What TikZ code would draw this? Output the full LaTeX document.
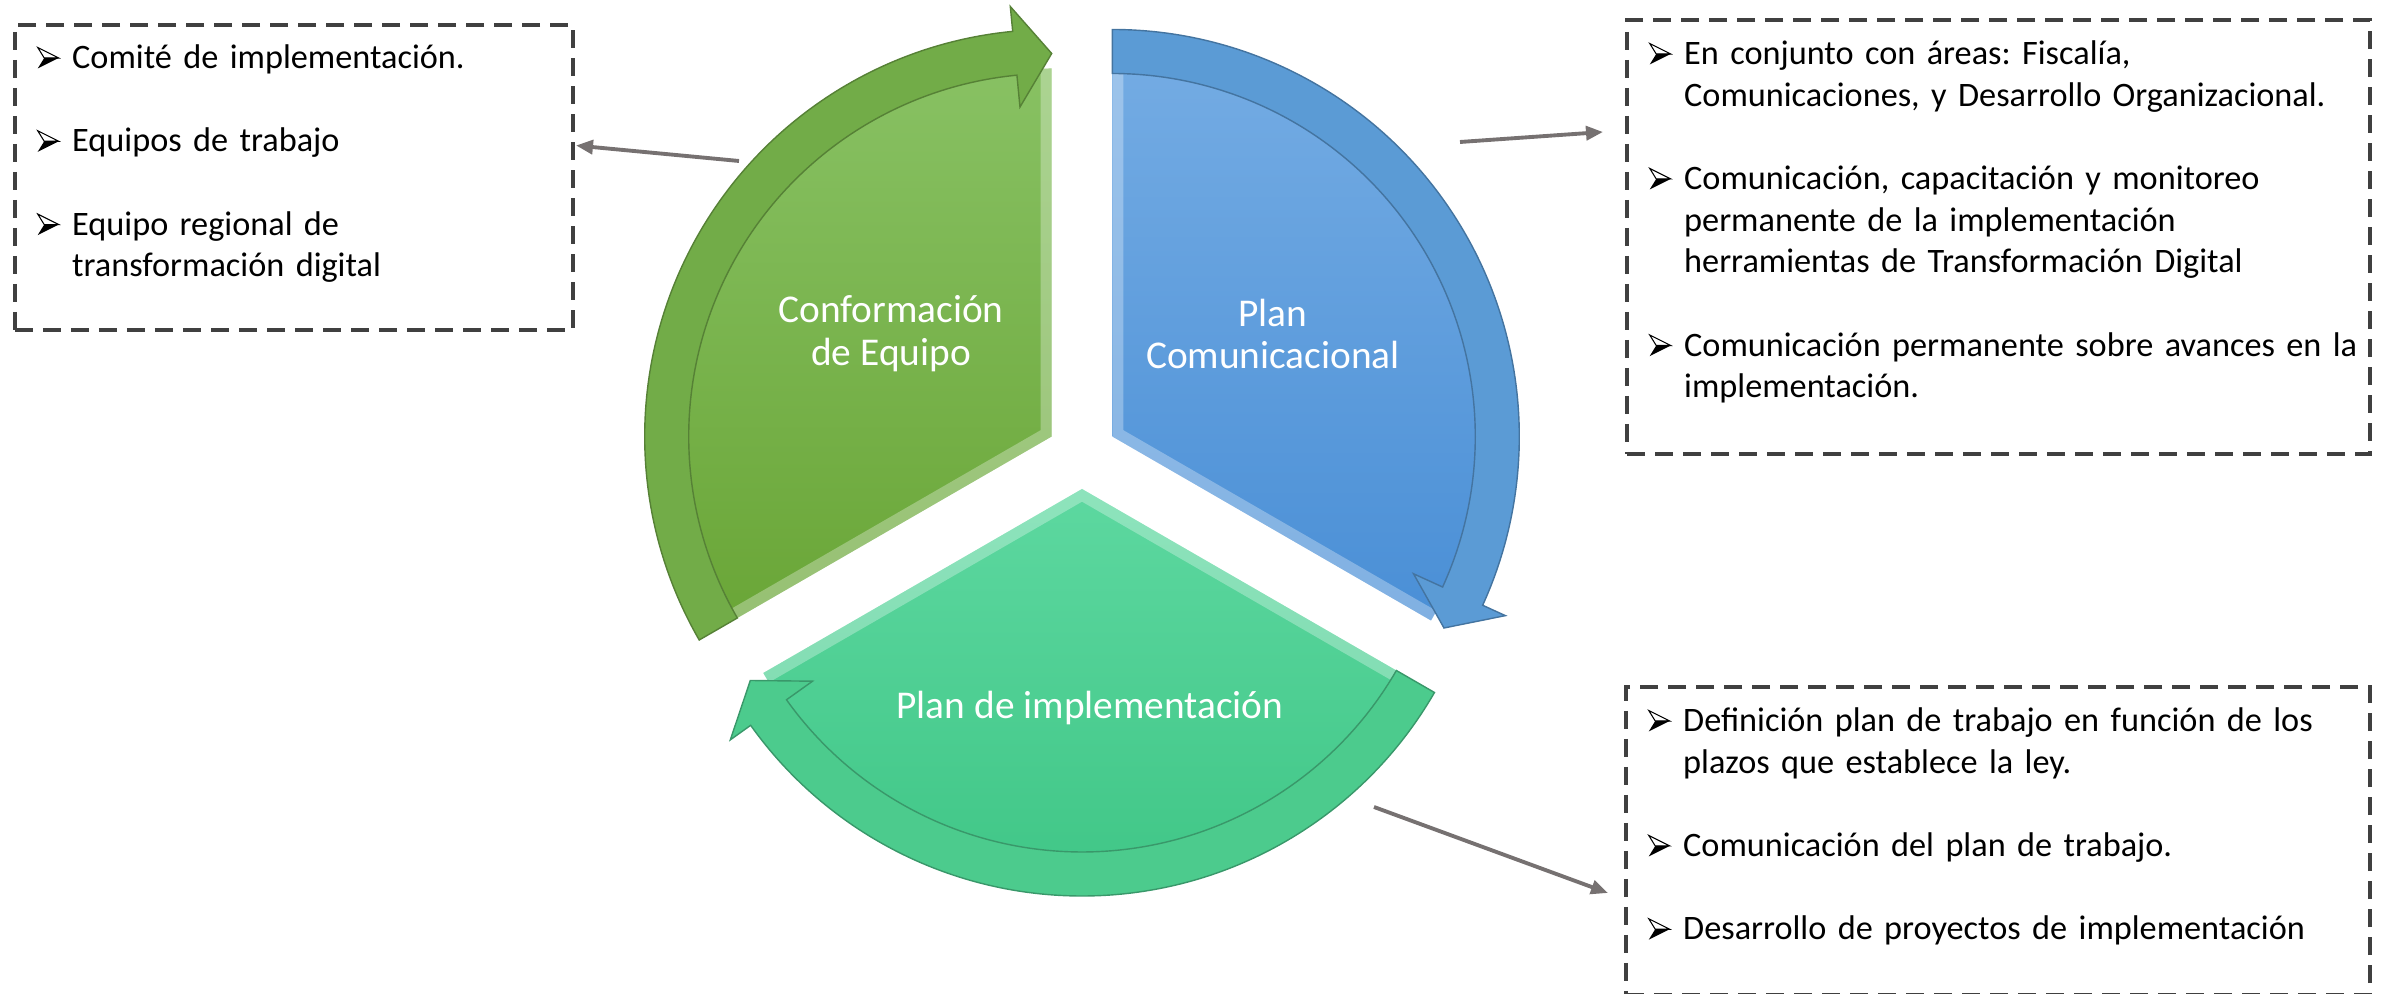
\documentclass[tikz,border=0pt]{standalone}
\usepackage{fontspec}
\setmainfont{Carlito}
\usetikzlibrary{arrows.meta,positioning}

\definecolor{verdeA}{HTML}{88C163}
\definecolor{verdeB}{HTML}{6AA637}
\definecolor{verdeBanda}{HTML}{72AC48}
\definecolor{azulA}{HTML}{73ABE3}
\definecolor{azulB}{HTML}{4A8FD6}
\definecolor{azulBanda}{HTML}{5B9BD5}
\definecolor{tealA}{HTML}{5DD8A0}
\definecolor{tealB}{HTML}{3EC585}
\definecolor{tealBanda}{HTML}{4CCB8D}
\definecolor{borde}{HTML}{404040}
\definecolor{flecha}{HTML}{767171}

\tikzset{dashbox/.style={draw=borde, line width=1.15pt, dash pattern=on 0.18cm off 0.1cm,
   anchor=north west, inner sep=0, outer sep=0},
 listtext/.style={inner sep=0, text width=7.2cm, align=left,
   font=\fontsize{9.75}{11.85}\selectfont\frenchspacing},
 etiqueta/.style={text=white, align=center, font=\fontsize{11.2}{12.2}\selectfont},
 conector/.style={draw=flecha, line width=1.1pt, -{Triangle[length=0.17cm,width=0.14cm]}},
 }

% arrow-head bullet
\newcommand{\bul}{\tikz[baseline=0pt]{\draw[line width=0.3pt, line join=miter, fill=white]
  (0,0.21)--(0.21,0.105)--(0.065,0.105)--cycle; \fill (0.065,0.105)--(0.21,0.105)--(0,0)--cycle;}}
\newcommand{\punto}[1]{\noindent\hangindent=0.35cm\hangafter=1\makebox[0.35cm][l]{\bul}#1\par}

% one piece of the cycle: shift, start angle, end angle, top, bottom, band
\newcommand{\cyclepart}[6]{%
 \begin{scope}[shift={#1}]
  \shade[top color=#4, bottom color=#5] (0,0) -- (#2:3.68) arc[start angle=#2, end angle=#3, radius=3.68cm] -- cycle;
  \begin{scope}
   \clip (0,0) -- (#2:3.68) arc[start angle=#2, end angle=#3, radius=3.68cm] -- cycle;
   \draw[white, opacity=0.3, line width=0.22cm] (#2:3.7) -- (0,0) -- (#3:3.9);
  \end{scope}
  \draw[draw=#6!75!black, line width=0.4pt, fill=#6] (#2:4.07) arc[start angle=#2, end angle=#3+5.5, radius=4.07cm]
   -- (#3+5.5:4.32) -- (#3:3.83) -- (#3+5.5:3.31) -- (#3+5.5:3.63) arc[start angle=#3+5.5, end angle=#2, radius=3.63cm] -- cycle;
 \end{scope}}

\begin{document}
\begin{tikzpicture}
\useasboundingbox (0,0) rectangle (23.81,-9.94);

\cyclepart{(10.517,-4.365)}{210}{90}{verdeA}{verdeB}{verdeBanda}
\cyclepart{(11.123,-4.365)}{90}{-30}{azulA}{azulB}{azulBanda}
\cyclepart{(10.82,-4.89)}{330}{210}{tealA}{tealB}{tealBanda}

\node[etiqueta] (conformacion) at (8.91,-3.34) {Conformación\\de Equipo};
\node[etiqueta] (comunicacional) at (12.73,-3.34) {Plan\\Comunicacional};
\node[etiqueta] (implementacion) at (10.90,-7.08) {Plan de implementación};

% boxes
\node[dashbox, minimum width=5.58cm, minimum height=3.05cm] (equipobox) at (0.15,-0.25) {};
\node[dashbox, minimum width=7.43cm, minimum height=4.34cm] (planbox) at (16.27,-0.20) {};
\node[dashbox, minimum width=7.44cm, minimum height=3.08cm] (implbox) at (16.26,-6.87) {};

\node[listtext, below right=0.19cm and 0.215cm of equipobox.north west] (equipolist) {%
 \punto{Comité de implementación.}\vspace{\baselineskip}
 \punto{Equipos de trabajo}\vspace{\baselineskip}
 \punto{Equipo regional de\newline transformación digital}};
\node[listtext, below right=0.20cm and 0.215cm of planbox.north west] (planlist) {%
 \punto{En conjunto con áreas: Fiscalía,\newline Comunicaciones, y Desarrollo Organizacional.}\vspace{\baselineskip}
 \punto{Comunicación, capacitación y monitoreo\newline permanente de la implementación\newline herramientas de Transformación Digital}\vspace{\baselineskip}
 \punto{Comunicación permanente sobre avances en la\newline implementación.}};
\node[listtext, below right=0.20cm and 0.215cm of implbox.north west] (impllist) {%
 \punto{Definición plan de trabajo en función de los\newline plazos que establece la ley.}\vspace{\baselineskip}
 \punto{Comunicación del plan de trabajo.}\vspace{\baselineskip}
 \punto{Desarrollo de proyectos de implementación}};

% connectors
\coordinate (desdeverde) at (7.39,-1.61);
\coordinate (desdeazul) at (14.60,-1.42);
\coordinate (desdeteal) at (13.74,-8.07);
\draw[conector] (desdeverde) -- ([xshift=0.03cm, yshift=0.32cm]equipobox.east);
\draw[conector] (desdeazul) -- ([xshift=-0.24cm, yshift=1.05cm]planbox.west);
\draw[conector] (desdeteal) -- ([xshift=-0.18cm, yshift=-0.52cm]implbox.west);
\end{tikzpicture}
\end{document}
